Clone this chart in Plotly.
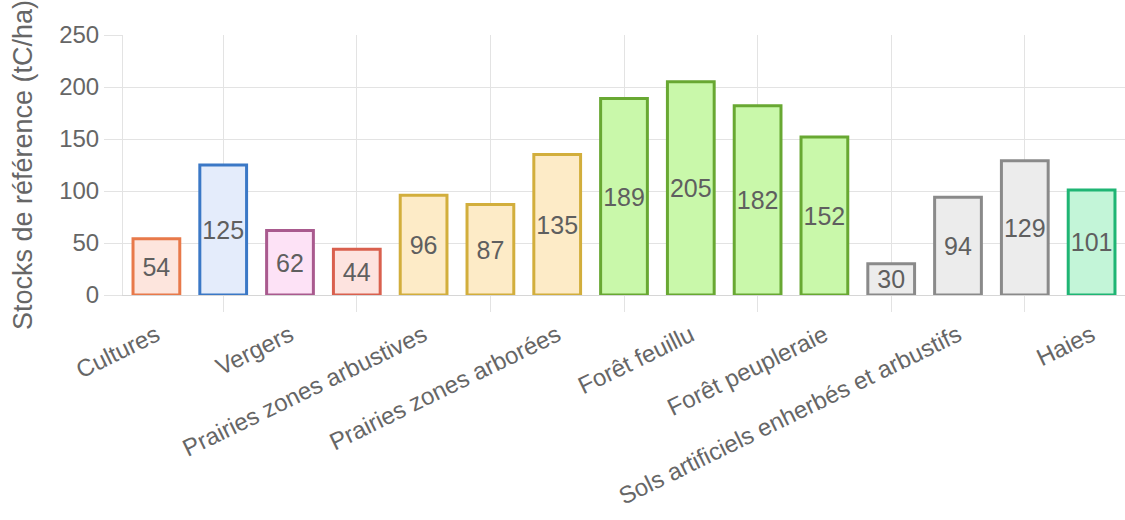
import plotly.graph_objects as go

# Reference carbon stocks per land-use category (tC/ha)
categories = [
    "Cultures",
    "Zones humides",
    "Vergers",
    "Vignes",
    "Prairies zones arbustives",
    "Prairies zones herbacées",
    "Prairies zones arborées",
    "Forêt conifères",
    "Forêt feuillu",
    "Forêt mixte",
    "Forêt peupleraie",
    "Sols artificiels imperméabilisés",
    "Sols artificiels enherbés et arbustifs",
    "Sols artificiels arborés",
    "Haies",
]
stocks = [54, 125, 62, 44, 96, 87, 135, 189, 205, 182, 152, 30, 94, 129, 101]

border_colors = [
    "#e8794a", "#3b78c6", "#a95a8e", "#d9604e",
    "#d2ae3c", "#d2ae3c", "#d2ae3c",
    "#68a832", "#68a832", "#68a832", "#68a832",
    "#8a8a8a", "#8a8a8a", "#8a8a8a",
    "#1fb574",
]
fill_colors = [
    "#fde5dd", "#e4ecfb", "#fde2f6", "#fde3df",
    "#fdebc7", "#fdebc7", "#fdebc7",
    "#c9f8aa", "#c9f8aa", "#c9f8aa", "#c9f8aa",
    "#ececec", "#ececec", "#ececec",
    "#c3f5d8",
]

# Only every other category gets a label on the axis
label_ticks = categories[0::2]
grid_positions = list(range(1, len(categories), 2))

TEXT = "#666666"
GRID = "#e3e3e3"
FONT = "Liberation Sans, Arial, sans-serif"

fig = go.Figure()
fig.add_trace(go.Bar(
    x=categories,
    y=stocks,
    marker=dict(color=fill_colors, line=dict(color=border_colors, width=3)),
    width=0.7,
    text=stocks,
    texttemplate="%{text}",
    textposition="inside",
    insidetextanchor="middle",
    textangle=0,
    constraintext="none",
    textfont=dict(family=FONT, size=25, color="#5f5f5f"),
    hoverinfo="x+y",
    showlegend=False,
))

fig.update_layout(
    width=1125,
    height=520,
    margin=dict(l=123, r=0, t=35, b=225),
    paper_bgcolor="white",
    plot_bgcolor="white",
    font=dict(family=FONT, color=TEXT, size=24),
    bargap=0.3,
    xaxis=dict(
        type="category",
        categoryorder="array",
        categoryarray=categories,
        range=[-0.5, len(categories) - 0.5],
        tickmode="array",
        tickvals=label_ticks,
        ticktext=label_ticks,
        tickangle=-26,
        ticks="outside",
        ticklen=16,
        tickcolor="rgba(0,0,0,0)",
        showgrid=False,
        showline=True,
        linecolor="#d6d6d6",
        linewidth=1,
        tickfont=dict(size=24, color=TEXT),
        zeroline=False,
    ),
    # Vertical grid lines sit on the unlabelled categories
    xaxis2=dict(
        overlaying="x",
        side="bottom",
        type="linear",
        range=[-0.5, len(categories) - 0.5],
        tickmode="array",
        tickvals=grid_positions,
        showticklabels=False,
        ticks="outside",
        ticklen=16,
        tickcolor=GRID,
        showgrid=True,
        gridcolor=GRID,
        gridwidth=1,
        zeroline=False,
        showline=False,
    ),
    yaxis=dict(
        range=[0, 250],
        dtick=50,
        ticks="outside",
        ticklen=18,
        tickcolor=GRID,
        gridcolor=GRID,
        gridwidth=1,
        showline=True,
        linecolor=GRID,
        zeroline=False,
        tickfont=dict(size=24, color=TEXT),
        title=dict(text="Stocks de référence (tC/ha)", font=dict(size=27, color=TEXT), standoff=18),
    ),
)

# Invisible companion trace so the grid axis is laid out
fig.add_trace(go.Scatter(
    x=grid_positions, y=[0] * len(grid_positions), xaxis="x2",
    mode="markers", marker=dict(opacity=0), hoverinfo="skip", showlegend=False,
))

fig.write_html("out.html")
